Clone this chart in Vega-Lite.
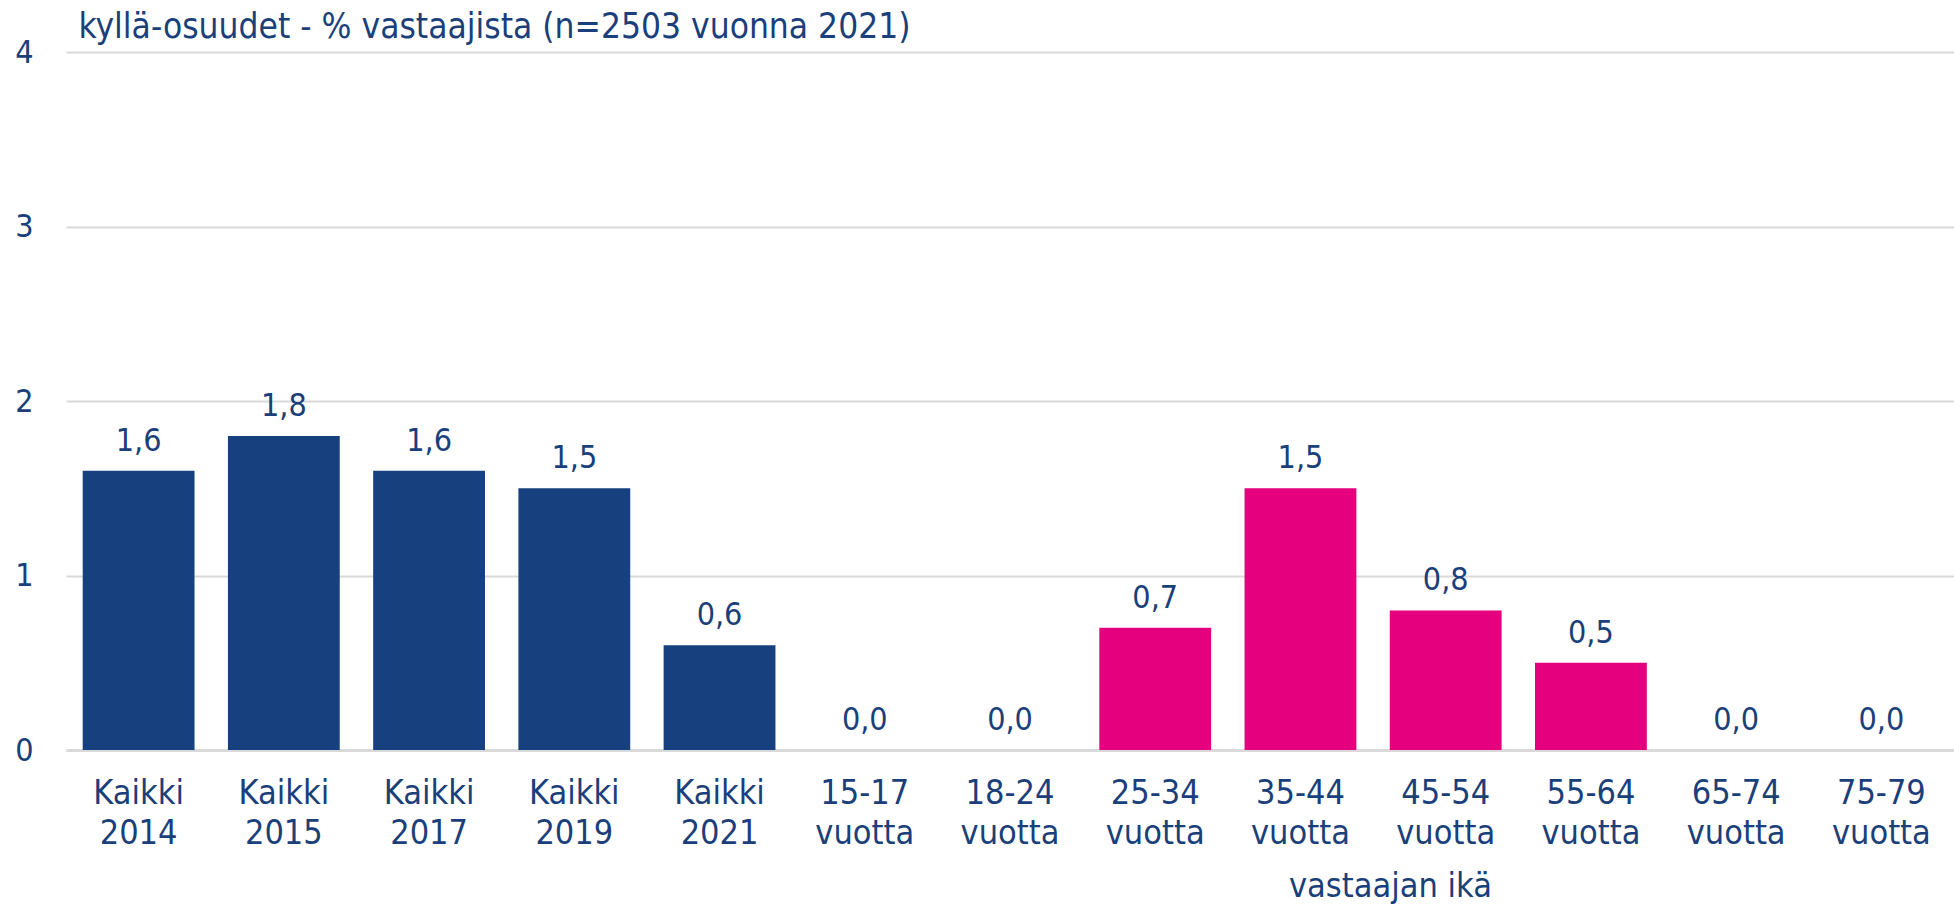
{
  "$schema": "https://vega.github.io/schema/vega-lite/v6.json",
  "autosize": "none",
  "width": 1888,
  "height": 698,
  "padding": {"left": 66, "top": 52, "right": 0, "bottom": 158},
  "background": "white",
  "config": {
    "font": "Liberation Sans Narrow, DejaVu Sans Condensed, sans-serif",
    "view": {"stroke": null},
    "locale": {"number": {"decimal": ",", "thousands": " ", "grouping": [3], "currency": ["", " €"]}}
  },
  "data": {
    "values": [
      {"kategoria": "Kaikki 2014", "arvo": 1.6, "ryhma": "kaikki"},
      {"kategoria": "Kaikki 2015", "arvo": 1.8, "ryhma": "kaikki"},
      {"kategoria": "Kaikki 2017", "arvo": 1.6, "ryhma": "kaikki"},
      {"kategoria": "Kaikki 2019", "arvo": 1.5, "ryhma": "kaikki"},
      {"kategoria": "Kaikki 2021", "arvo": 0.6, "ryhma": "kaikki"},
      {"kategoria": "15-17 vuotta", "arvo": 0.0, "ryhma": "ika"},
      {"kategoria": "18-24 vuotta", "arvo": 0.0, "ryhma": "ika"},
      {"kategoria": "25-34 vuotta", "arvo": 0.7, "ryhma": "ika"},
      {"kategoria": "35-44 vuotta", "arvo": 1.5, "ryhma": "ika"},
      {"kategoria": "45-54 vuotta", "arvo": 0.8, "ryhma": "ika"},
      {"kategoria": "55-64 vuotta", "arvo": 0.5, "ryhma": "ika"},
      {"kategoria": "65-74 vuotta", "arvo": 0.0, "ryhma": "ika"},
      {"kategoria": "75-79 vuotta", "arvo": 0.0, "ryhma": "ika"}
    ]
  },
  "encoding": {
    "x": {
      "field": "kategoria",
      "type": "nominal",
      "sort": null,
      "scale": {"paddingInner": 0.23, "paddingOuter": 0.115},
      "axis": {
        "title": "vastaajan ikä",
        "titleFontSize": 34,
        "titleFontWeight": "normal",
        "titleColor": "#1a3f7a",
        "titleX": 1324,
        "titleY": 146,
        "titleAlign": "center",
        "titleBaseline": "alphabetic",
        "labelExpr": "split(datum.label, ' ')",
        "labelAngle": 0,
        "labelFontSize": 34,
        "labelColor": "#1a3f7a",
        "labelLineHeight": 40,
        "labelPadding": 26,
        "labelBaseline": "top",
        "ticks": false,
        "domain": true,
        "domainColor": "#d9d9d9",
        "domainWidth": 3
      }
    },
    "y": {
      "field": "arvo",
      "type": "quantitative",
      "scale": {"domain": [0, 4]},
      "axis": {
        "values": [0, 1, 2, 3, 4],
        "title": "kyllä-osuudet - % vastaajista (n=2503 vuonna 2021)",
        "titleAngle": 0,
        "titleAlign": "left",
        "titleBaseline": "alphabetic",
        "titleX": 12,
        "titleY": -15,
        "titleFontSize": 35,
        "titleFontWeight": "normal",
        "titleColor": "#1a3f7a",
        "labelFontSize": 32,
        "labelColor": "#1a3f7a",
        "labelPadding": 33,
        "ticks": false,
        "domain": false,
        "grid": true,
        "gridColor": "#d9d9d9",
        "gridWidth": 2
      }
    }
  },
  "layer": [
    {
      "mark": {"type": "bar"},
      "encoding": {
        "color": {
          "field": "ryhma",
          "type": "nominal",
          "scale": {"domain": ["kaikki", "ika"], "range": ["#17417e", "#e5007e"]},
          "legend": null
        }
      }
    },
    {
      "mark": {"type": "text", "baseline": "alphabetic", "dy": -20, "fontSize": 32, "color": "#1a3f7a"},
      "encoding": {
        "text": {"field": "arvo", "type": "quantitative", "format": ".1f"}
      }
    }
  ]
}
